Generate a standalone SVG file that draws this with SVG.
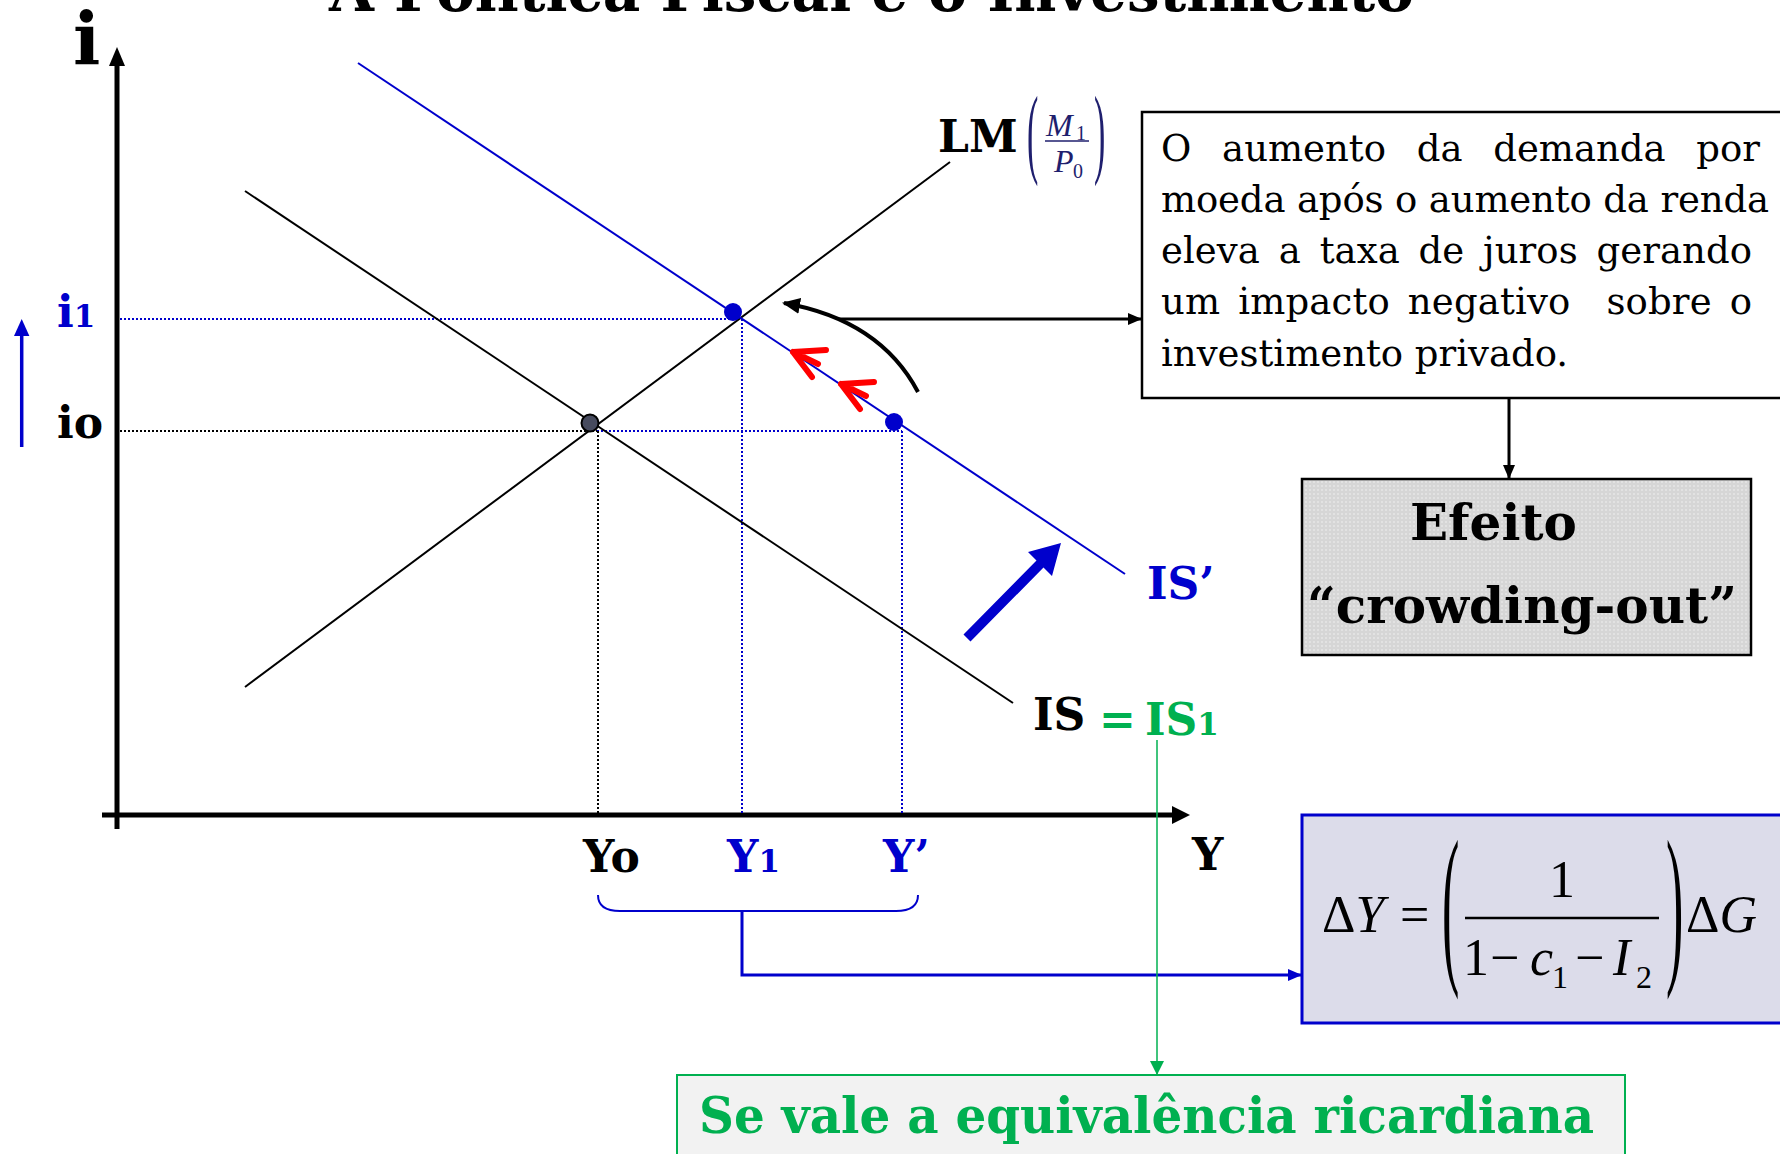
<svg xmlns="http://www.w3.org/2000/svg" width="1780" height="1154" viewBox="0 0 1780 1154">
<style>
.lbl{font-family:"DejaVu Serif","Liberation Serif",serif;font-weight:bold;font-size:44px;fill:#000}
.blue{fill:#0000cc}
.green{fill:#00b050}
.body{font-family:"DejaVu Serif","Liberation Serif",serif;font-size:37px;fill:#000}
.math{font-family:"Liberation Serif","Times New Roman",serif;font-size:52px;fill:#000}
.navy{fill:#1f1f6e}
.it{font-style:italic}
.dotk{stroke:#000;stroke-width:2;stroke-dasharray:2 2;fill:none}
.dotb{stroke:#0000cc;stroke-width:2;stroke-dasharray:2 2;fill:none}
.red{stroke:#ff0000;stroke-width:6;stroke-linecap:round;stroke-linejoin:round;fill:none}
</style>
<defs>
<pattern id="dots" width="4" height="4" patternUnits="userSpaceOnUse">
<rect width="4" height="4" fill="#d6d6d6"/><circle cx="2" cy="2" r="0.8" fill="#f2f2f2"/>
</pattern>
<marker id="ahK" markerUnits="userSpaceOnUse" markerWidth="14" markerHeight="12" refX="13" refY="6" orient="auto"><path d="M0,0 L14,6 L0,12 z" fill="#000"/></marker>
<marker id="ahCurve" markerUnits="userSpaceOnUse" markerWidth="18" markerHeight="16" refX="16" refY="8" orient="auto"><path d="M0,0 L18,8 L0,16 z" fill="#000"/></marker>
<marker id="ahB" markerUnits="userSpaceOnUse" markerWidth="14" markerHeight="12" refX="13" refY="6" orient="auto"><path d="M0,0 L14,6 L0,12 z" fill="#0000cc"/></marker>
<marker id="ahG" markerUnits="userSpaceOnUse" markerWidth="14" markerHeight="14" refX="13" refY="7" orient="auto"><path d="M0,0 L14,7 L0,14 z" fill="#00b050"/></marker>
</defs>
<rect width="1780" height="1154" fill="#fff"/>

<g id="title">
<text class="lbl" x="329" y="11" style="font-size:58px" textLength="1085" lengthAdjust="spacingAndGlyphs">A Política Fiscal e o Investimento</text>
</g>

<g id="axes">
<line x1="117" y1="829" x2="117" y2="62" stroke="#000" stroke-width="5"/>
<polygon points="117,47 109,66 125,66" fill="#000"/>
<line x1="102" y1="815" x2="1175" y2="815" stroke="#000" stroke-width="5"/>
<polygon points="1190,815 1172,806 1172,824" fill="#000"/>
<text class="lbl" x="73" y="65" style="font-size:72px">i</text>
<text class="lbl" x="1192" y="870">Y</text>
</g>

<g id="guides">
<line class="dotb" x1="120" y1="319" x2="733" y2="319"/>
<line class="dotk" x1="120" y1="431" x2="597" y2="431"/>
<line class="dotb" x1="597" y1="431" x2="902" y2="431"/>
<line class="dotk" x1="598" y1="431" x2="598" y2="813"/>
<line class="dotb" x1="742" y1="319" x2="742" y2="813"/>
<line class="dotb" x1="902" y1="431" x2="902" y2="813"/>
</g>

<g id="curves">
<line x1="245" y1="687" x2="950" y2="162" stroke="#000" stroke-width="2"/>
<line x1="245" y1="191" x2="1013" y2="703" stroke="#000" stroke-width="2"/>
<line x1="358" y1="63" x2="1125" y2="574" stroke="#0000cc" stroke-width="2"/>
</g>

<g id="points">
<circle cx="590" cy="423" r="8.5" fill="#474b5e" stroke="#000" stroke-width="2"/>
<circle cx="733" cy="312" r="9" fill="#0000cc"/>
<circle cx="894" cy="422" r="9" fill="#0000cc"/>
</g>

<g id="shift-arrows">
<path class="red" d="M826,350 L793,352 L812,377 M793,352 L818,364"/>
<path class="red" d="M874,382 L841,384 L860,409 M841,384 L866,396"/>
<polygon points="963.5,634.5 1036.5,560.5 1028,552 1061,543 1052,576 1043.5,567.5 970.5,641.5" fill="#0000cc"/>
<line x1="21.7" y1="447" x2="21.7" y2="333" stroke="#0000cc" stroke-width="3.5"/>
<polygon points="21.7,319 14,336 29.4,336" fill="#0000cc"/>
</g>

<g id="labels">
<text class="lbl blue" x="57" y="327">i<tspan style="font-size:31px">1</tspan></text>
<text class="lbl" x="57" y="438">io</text>
<text class="lbl" x="583" y="872">Yo</text>
<text class="lbl blue" x="727" y="872">Y<tspan style="font-size:31px">1</tspan></text>
<text class="lbl blue" x="883" y="872">Y’</text>
<text class="lbl blue" x="1147" y="599">IS’</text>
<text class="lbl" x="1033" y="730">IS</text>
<text class="lbl green" x="1099" y="735">=</text>
<text class="lbl green" x="1145" y="735">IS<tspan style="font-size:31px">1</tspan></text>
</g>

<g id="lm-label">
<text class="lbl" x="938" y="152">LM</text>
<text class="math navy" style="font-size:34px" transform="translate(1027,164.7) scale(1,2.9)">(</text>
<text class="math navy" style="font-size:34px" transform="translate(1094,164.7) scale(1,2.9)">)</text>
<text class="math navy it" style="font-size:32px" x="1046" y="136">M</text>
<text class="math navy" style="font-size:20px" x="1076" y="140">1</text>
<line x1="1045" y1="141" x2="1089" y2="141" stroke="#1f1f6e" stroke-width="1.5"/>
<text class="math navy it" style="font-size:32px" x="1054" y="172">P</text>
<text class="math navy" style="font-size:20px" x="1073" y="178">0</text>
</g>

<g id="note-box">
<rect x="1142" y="112" width="660" height="286" fill="#fff" stroke="#000" stroke-width="2.5"/>
<text class="body" x="1161" y="161" word-spacing="19" textLength="599" lengthAdjust="spacing">O aumento da demanda por</text>
<text class="body" x="1161" y="212" textLength="608" lengthAdjust="spacing">moeda após o aumento da renda</text>
<text class="body" x="1161" y="263" word-spacing="7" textLength="591" lengthAdjust="spacing">eleva a taxa de juros gerando</text>
<text class="body" x="1161" y="314" word-spacing="6" textLength="591" lengthAdjust="spacing" xml:space="preserve">um impacto negativo  sobre o</text>
<text class="body" x="1161" y="366">investimento privado.</text>
</g>

<g id="crowding-box">
<rect x="1302" y="479" width="449" height="176" fill="url(#dots)" stroke="#000" stroke-width="2.5"/>
<text class="lbl" x="1410" y="540" style="font-size:50px">Efeito</text>
<text class="lbl" x="1307" y="623" style="font-size:50px" textLength="430" lengthAdjust="spacingAndGlyphs">“crowding-out”</text>
</g>

<g id="multiplier-box">
<rect x="1302" y="815" width="500" height="208" fill="#dcdcea" stroke="#0000cc" stroke-width="3"/>
<text class="math" x="1322" y="932">Δ<tspan class="it">Y</tspan></text>
<text class="math" x="1400" y="932">=</text>
<text class="math" transform="translate(1442,962) scale(1,3.4)">(</text>
<text class="math" transform="translate(1666,962) scale(1,3.4)">)</text>
<text class="math" x="1562" y="897" text-anchor="middle">1</text>
<line x1="1465" y1="918" x2="1659" y2="918" stroke="#000" stroke-width="2.5"/>
<text class="math" x="1463" y="975">1</text>
<text class="math" x="1490" y="975">−</text>
<text class="math it" x="1530" y="975">c</text>
<text class="math" style="font-size:32px" x="1552" y="988">1</text>
<text class="math" x="1575" y="975">−</text>
<text class="math it" x="1613" y="975">I</text>
<text class="math" style="font-size:32px" x="1636" y="988">2</text>
<text class="math" x="1686" y="932">Δ<tspan class="it">G</tspan></text>
</g>

<g id="ricardian-box">
<rect x="677" y="1075" width="948" height="100" fill="#f2f2f2" stroke="#00b050" stroke-width="2"/>
<text class="lbl green" x="699" y="1133" style="font-size:50px" textLength="895" lengthAdjust="spacingAndGlyphs">Se vale a equivalência ricardiana</text>
</g>

<g id="connectors">
<path d="M918,392 Q880,320 784,303" fill="none" stroke="#000" stroke-width="4" marker-end="url(#ahCurve)"/>
<line x1="838" y1="319" x2="1141" y2="319" stroke="#000" stroke-width="3" marker-end="url(#ahK)"/>
<line x1="1509" y1="398" x2="1509" y2="478" stroke="#000" stroke-width="3" marker-end="url(#ahK)"/>
<path d="M598,895 Q598,911 620,911 L896,911 Q918,911 918,895" fill="none" stroke="#0000cc" stroke-width="2"/>
<path d="M742,911 V975 H1301" fill="none" stroke="#0000cc" stroke-width="3" marker-end="url(#ahB)"/>
<line x1="1157" y1="740" x2="1157" y2="1074" stroke="#00b050" stroke-width="1.5" marker-end="url(#ahG)"/>
</g>
</svg>
